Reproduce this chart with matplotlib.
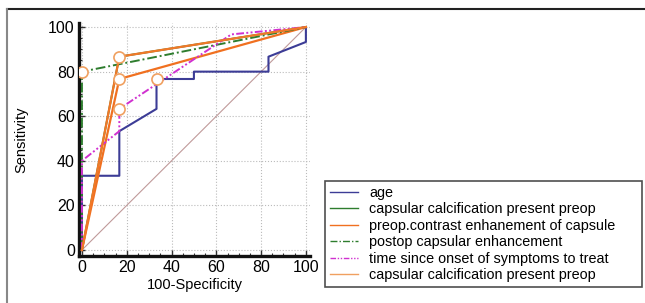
import matplotlib
matplotlib.use("Agg")
import matplotlib.pyplot as plt
from matplotlib.lines import Line2D
from matplotlib.ticker import MultipleLocator

plt.rcParams["font.family"] = ["Liberation Sans", "DejaVu Sans"]

# ---- ROC data (100-Specificity, Sensitivity) ----
age_x = [0, 0, 16.7, 16.7, 33.3, 33.3, 50, 50, 83.3, 83.3, 100, 100]
age_y = [0, 33.3, 33.3, 53.3, 63.3, 76.7, 76.7, 80, 80, 86.7, 93.3, 100]
calc_x = [0, 16.7, 100]
calc_y = [0, 86.7, 100]
contrast_x = [0, 16.7, 100]
contrast_y = [0, 76.7, 100]
postop_x = [0, 0, 100]
postop_y = [0, 80, 100]
time_x = [0, 0, 16.7, 16.7, 66.7, 100]
time_y = [0, 40, 53.3, 63.3, 96.7, 100]
# optimal cut-off points
cut_x = [0, 16.7, 16.7, 16.7, 33.3]
cut_y = [80, 86.7, 76.7, 63.3, 76.7]

labels = ["age", "capsular calcification present preop", "preop.contrast enhanement of capsule",
          "postop capsular enhancement", "time since onset of symptoms to treat",
          "capsular calcification present preop"]

fig = plt.figure(figsize=(6.45, 3.03), dpi=100)
ax = fig.add_axes([0.1225, 0.155, 0.358, 0.769])

ax.plot([0, 100], [0, 100], color="#c09a9a", lw=0.8, zorder=2)
h1, = ax.plot(age_x, age_y, color="#3c3c96", lw=1.5, zorder=3)
h2, = ax.plot(calc_x, calc_y, color="#2e7d2e", lw=1.4, zorder=3)
h3, = ax.plot(contrast_x, contrast_y, color="#f07020", lw=1.6, zorder=4)
h4, = ax.plot(postop_x, postop_y, color="#2e7d2e", lw=1.4, ls=(0, (5, 1.5, 1, 1.5)), zorder=4)
h5, = ax.plot(time_x, time_y, color="#d030d0", lw=1.4, ls=(0, (4, 1.2, 1, 1.2, 1, 1.2)), zorder=4)
h6, = ax.plot(calc_x, calc_y, color="#f07828", lw=1.6, zorder=4)
ax.plot(cut_x, cut_y, ls="none", marker="o", ms=8, mfc="white", mec="#f0a060", mew=1.2, zorder=6)

ax.set_xlim(-1.3, 101.8)
ax.set_ylim(-2.7, 101.8)
ax.xaxis.set_major_locator(MultipleLocator(20))
ax.yaxis.set_major_locator(MultipleLocator(20))
ax.xaxis.set_minor_locator(MultipleLocator(5))
ax.yaxis.set_minor_locator(MultipleLocator(5))
ax.grid(True, which="major", ls=":", color="#bbbbbb", lw=0.8)
ax.tick_params(which="major", direction="in", length=4, width=1, labelsize=11.5, pad=3, color="#333333")
ax.tick_params(which="minor", direction="in", length=2.5, width=0.8, color="#333333")
for s in ["top", "right"]:
    ax.spines[s].set_visible(False)
for s in ["left", "bottom"]:
    ax.spines[s].set_linewidth(2.4)
    ax.spines[s].set_color("#111111")
ax.set_xlabel("100-Specificity", fontsize=10.5, labelpad=2)
ax.set_ylabel("Sensitivity", fontsize=10.5, labelpad=14)

leg = fig.legend([h1, h2, h3, h4, h5, h6], labels,
                 loc="upper left", bbox_to_anchor=(0.504, 0.04, 0.491, 0.363), mode="expand",
                 fontsize=10.4, frameon=True, fancybox=False, handlelength=1.9, handletextpad=0.8,
                 labelspacing=0.17, borderpad=0.35, borderaxespad=0)
leg.get_frame().set_edgecolor("#222222")
leg.get_frame().set_linewidth(1.2)
for lh, c in zip(leg.get_lines(), ["#3c3c96", "#2e7d2e", "#f07020", "#2e7d2e", "#d030d0", "#f0a060"]):
    lh.set_linewidth(1.0)
    lh.set_color(c)

# outer frame
fig.add_artist(Line2D([7 / 645, 1], [1 - 9 / 303, 1 - 9 / 303], color="#222222", lw=1.5))
fig.add_artist(Line2D([7 / 645, 7 / 645], [0, 1 - 9 / 303], color="#888888", lw=1.5))

fig.savefig("out.png", dpi=100)
